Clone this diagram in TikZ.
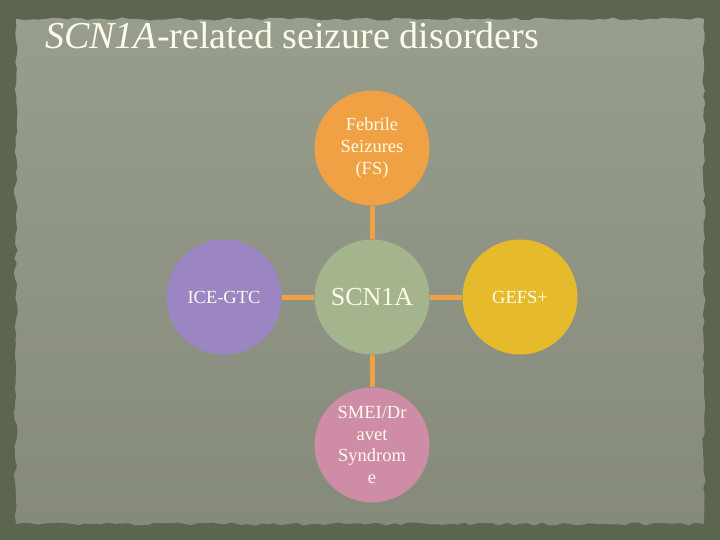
\documentclass[tikz,border=0pt]{standalone}
\usepackage{fontspec}
\setmainfont{Liberation Serif}
\usepackage{tikz}
\usetikzlibrary{decorations.pathmorphing}
\definecolor{frame}{HTML}{5C6550}
\definecolor{paperlight}{HTML}{989E8E}
\definecolor{paperdark}{HTML}{858A7B}
\definecolor{linkorange}{HTML}{F0A143}
\definecolor{fsorange}{HTML}{F0A143}
\definecolor{icepurple}{HTML}{9B85C3}
\definecolor{scngreen}{HTML}{A4B58D}
\definecolor{gefsyellow}{HTML}{E5BB2B}
\definecolor{smeipink}{HTML}{CF8CA6}
\definecolor{cream}{HTML}{FFFBEA}
\tikzstyle{link} = [line width=5pt, draw=linkorange]

\begin{document}
\begin{tikzpicture}[x=1pt, y=-1pt, every node/.style={circle, minimum size=115pt, inner sep=0pt, text=cream, align=center, font=\fontsize{18.5}{21.7}\selectfont}]
        \useasboundingbox (0,0) rectangle (720,540);
        % Background and torn paper
        \fill[frame] (0,0) rectangle (720,540);
        \pgfmathsetseed{7}
        \shade[top color=paperlight, bottom color=paperdark, decorate, decoration={random steps, segment length=7pt, amplitude=1.6pt}]
          (16,19) rectangle (704,524);

        % Title
        \node[rectangle, minimum size=0pt, anchor=base west, font=\fontsize{38}{42}\selectfont] (title) at (45,49) {\textit{SCN1A}-related seizure disorders};

        % Node positions
        \node[fill=fsorange] (FS) at (372,148) {Febrile\\Seizures\\(FS)};
        \node[fill=scngreen, font=\fontsize{26}{30}\selectfont] (SCN) at (372,297) {SCN1A};
        \node[fill=icepurple] (ICE) at (224,297) {ICE-GTC};
        \node[fill=gefsyellow] (GEFS) at (520,297) {GEFS+};
        \node[fill=smeipink] (SMEI) at (372,445) {SMEI/Dr\\avet\\Syndrom\\e};

        \draw[link] (FS) -- (SCN);
        \draw[link] (ICE) -- (SCN);
        \draw[link] (SCN) -- (GEFS);
        \draw[link] (SCN) -- (SMEI);
\end{tikzpicture}
\end{document}
